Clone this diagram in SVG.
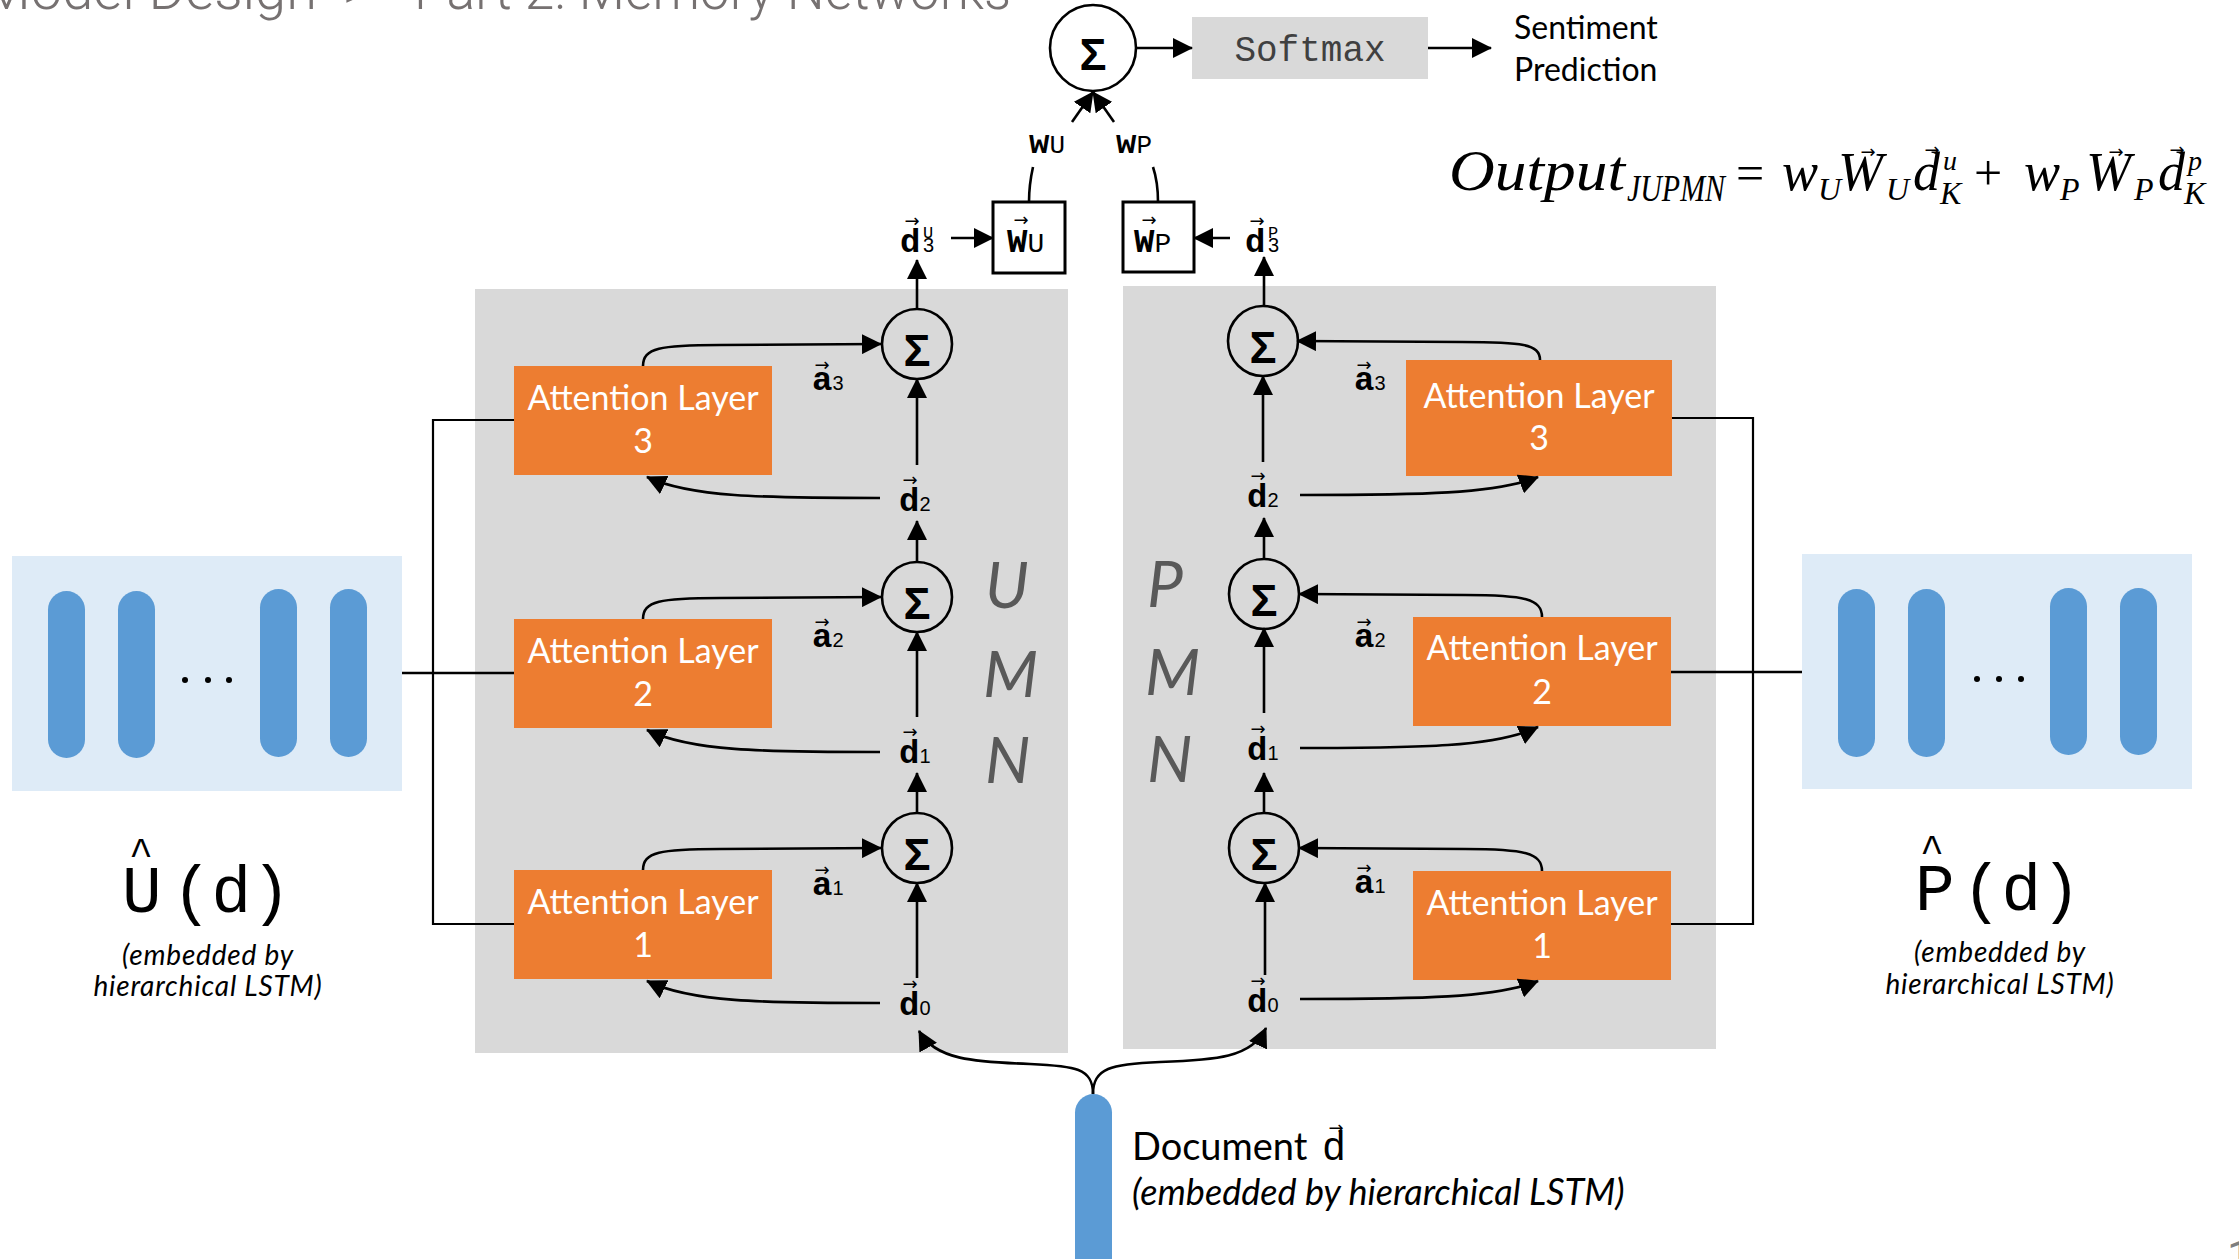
<svg xmlns="http://www.w3.org/2000/svg" width="2239" height="1259" viewBox="0 0 2239 1259">
<defs>
  <marker id="ah" markerUnits="userSpaceOnUse" markerWidth="20" markerHeight="20" viewBox="0 0 20 20" refX="19" refY="10" orient="auto">
    <path d="M0,0 L20,10 L0,20 z" fill="#000"/>
  </marker>
  <style>
    .panel{fill:#d9d9d9}
    .att{fill:#ed7d31}
    .att-t{font-family:Lato,"Liberation Sans",sans-serif;font-size:34px;fill:#fff;text-anchor:middle}
    .sum{fill:none;stroke:#000;stroke-width:2.6}
    .sig{font-family:"Liberation Sans",sans-serif;font-weight:bold;font-size:45px;text-anchor:middle}
    .ln{fill:none;stroke:#000;stroke-width:2.6}
    .arr{marker-end:url(#ah)}
    .frame{fill:none;stroke:#000;stroke-width:2.2}
    .vb{font-family:"Liberation Mono",monospace;font-weight:bold;font-size:34px}
    .vs{font-family:"Liberation Sans",sans-serif;font-weight:normal;font-size:20px}
    .acc{font-family:"DejaVu Sans",sans-serif;font-size:18px;text-anchor:middle}
    .mem{font-family:Lato,sans-serif;font-style:italic;font-size:64px;fill:#595959}
    .emb{fill:#deebf7}
    .pill{fill:#5b9bd5}
    .cap{font-family:Lato,sans-serif;font-style:italic;font-size:28px;letter-spacing:0.8px;text-anchor:middle}
    .mono{font-family:"Liberation Mono",monospace}
    .math{font-family:"Liberation Serif",serif;font-style:italic}
    .hdr{font-family:Roboto,sans-serif;font-weight:300;font-size:56px;fill:#767171}
  </style>
</defs>

<!-- slide header and page number -->
<g id="header">
  <text class="hdr" x="317" y="9" text-anchor="end">Model Design</text>
  <text class="hdr" x="343" y="9">&gt;</text>
  <text class="hdr" x="414" y="9" textLength="597" lengthAdjust="spacingAndGlyphs">Part 2: Memory Networks</text>
</g>
<text id="page-num" x="2227" y="1272" font-family="Roboto,sans-serif" font-size="44" fill="#7f7f7f">1</text>

<!-- memory network panels -->
<g id="umn-panel">
  <rect class="panel" x="475" y="289" width="593" height="764"/>
  <text class="mem" x="985" y="608">U</text>
  <text class="mem" x="983" y="697">M</text>
  <text class="mem" x="985" y="783">N</text>
</g>
<g id="pmn-panel">
  <rect class="panel" x="1123" y="286" width="593" height="763"/>
  <text class="mem" x="1147" y="607">P</text>
  <text class="mem" x="1145" y="695">M</text>
  <text class="mem" x="1147" y="782">N</text>
</g>

<!-- user / product embeddings -->
<g id="user-emb">
  <rect class="emb" x="12" y="556" width="390" height="235"/>
  <rect class="pill" x="48" y="591" width="37" height="167" rx="18.5"/>
  <rect class="pill" x="118" y="591" width="37" height="167" rx="18.5"/>
  <rect class="pill" x="260" y="589" width="37" height="168" rx="18.5"/>
  <rect class="pill" x="330" y="589" width="37" height="168" rx="18.5"/>
  <circle cx="185" cy="680" r="3"/><circle cx="208" cy="680" r="3"/><circle cx="229" cy="680" r="3"/>
  <text class="mono" x="141" y="866" font-size="40" text-anchor="middle">^</text>
  <text class="mono" y="912" font-size="66"><tspan x="122">U</tspan><tspan x="172">(d)</tspan></text>
  <text class="cap" x="208" y="965">(embedded by</text>
  <text class="cap" x="208" y="996">hierarchical LSTM)</text>
</g>
<g id="product-emb">
  <rect class="emb" x="1802" y="554" width="390" height="235"/>
  <rect class="pill" x="1838" y="589" width="37" height="168" rx="18.5"/>
  <rect class="pill" x="1908" y="589" width="37" height="168" rx="18.5"/>
  <rect class="pill" x="2050" y="588" width="37" height="167" rx="18.5"/>
  <rect class="pill" x="2120" y="588" width="37" height="167" rx="18.5"/>
  <circle cx="1977" cy="679" r="3"/><circle cx="1999" cy="679" r="3"/><circle cx="2021" cy="679" r="3"/>
  <text class="mono" x="1932" y="863" font-size="40" text-anchor="middle">^</text>
  <text class="mono" y="910" font-size="66"><tspan x="1915">P</tspan><tspan x="1962">(d)</tspan></text>
  <text class="cap" x="2000" y="962">(embedded by</text>
  <text class="cap" x="2000" y="994">hierarchical LSTM)</text>
</g>

<!-- attention layers -->
<g id="u-att3"><rect class="att" x="514" y="366" width="258" height="109"/><text class="att-t" x="643" y="410">Attention Layer</text><text class="att-t" x="643" y="453">3</text></g>
<g id="u-att2"><rect class="att" x="514" y="619" width="258" height="109"/><text class="att-t" x="643" y="663">Attention Layer</text><text class="att-t" x="643" y="706">2</text></g>
<g id="u-att1"><rect class="att" x="514" y="870" width="258" height="109"/><text class="att-t" x="643" y="914">Attention Layer</text><text class="att-t" x="643" y="957">1</text></g>
<g id="p-att3"><rect class="att" x="1406" y="360" width="266" height="116"/><text class="att-t" x="1539" y="408">Attention Layer</text><text class="att-t" x="1539" y="450">3</text></g>
<g id="p-att2"><rect class="att" x="1413" y="617" width="258" height="109"/><text class="att-t" x="1542" y="660">Attention Layer</text><text class="att-t" x="1542" y="704">2</text></g>
<g id="p-att1"><rect class="att" x="1413" y="871" width="258" height="109"/><text class="att-t" x="1542" y="915">Attention Layer</text><text class="att-t" x="1542" y="958">1</text></g>

<!-- summation nodes -->
<g id="u-sum3"><circle class="sum" cx="917" cy="344" r="35"/><text class="sig" x="917" y="366">Σ</text></g>
<g id="u-sum2"><circle class="sum" cx="917" cy="597" r="35"/><text class="sig" x="917" y="619">Σ</text></g>
<g id="u-sum1"><circle class="sum" cx="917" cy="848" r="35"/><text class="sig" x="917" y="870">Σ</text></g>
<g id="p-sum3"><circle class="sum" cx="1263" cy="341" r="35"/><text class="sig" x="1263" y="363">Σ</text></g>
<g id="p-sum2"><circle class="sum" cx="1264" cy="594" r="35"/><text class="sig" x="1264" y="616">Σ</text></g>
<g id="p-sum1"><circle class="sum" cx="1264" cy="848" r="35"/><text class="sig" x="1264" y="870">Σ</text></g>
<g id="out-sum"><circle class="sum" cx="1093" cy="48" r="43"/><text class="sig" x="1093" y="70">Σ</text></g>

<!-- output side -->
<g id="softmax">
  <rect x="1192" y="17" width="236" height="62" fill="#d9d9d9"/>
  <text class="mono" x="1310" y="61" font-size="36" fill="#404040" text-anchor="middle">Softmax</text>
</g>
<g id="prediction" font-family="Lato,sans-serif" font-size="32">
  <text x="1514" y="39">Sentiment</text>
  <text x="1514" y="81">Prediction</text>
</g>
<g id="wu-box">
  <rect x="993" y="202" width="72" height="71" fill="#fff" stroke="#000" stroke-width="3"/>
  <text class="acc" x="1021" y="226" font-size="36">→</text>
  <text class="vb" x="1007" y="252" font-size="40">W<tspan class="mono" font-weight="normal" font-size="28">U</tspan></text>
</g>
<g id="wp-box">
  <rect x="1123" y="202" width="71" height="70" fill="#fff" stroke="#000" stroke-width="3"/>
  <text class="acc" x="1149" y="226" font-size="36">→</text>
  <text class="vb" x="1134" y="252" font-size="40">W<tspan class="mono" font-weight="normal" font-size="28">P</tspan></text>
</g>
<g id="weights">
  <text class="vb" x="1029" y="153" font-size="37">w<tspan class="mono" font-weight="normal" font-size="26">U</tspan></text>
  <text class="vb" x="1116" y="153" font-size="37">w<tspan class="mono" font-weight="normal" font-size="26">P</tspan></text>
</g>

<!-- vector labels -->
<g id="vec-labels">
  <text class="acc" x="912" y="227">→</text><text class="vb" x="900" y="252">d</text><text class="mono" x="923" y="238" font-size="17">U</text><text class="vs" x="923" y="252">3</text>
  <text class="acc" x="1257" y="227">→</text><text class="vb" x="1245" y="252">d</text><text class="mono" x="1268" y="238" font-size="17">P</text><text class="vs" x="1268" y="252">3</text>

  <text class="acc" x="910" y="486">→</text><text class="vb" x="899" y="511">d<tspan class="vs">2</tspan></text>
  <text class="acc" x="910" y="738">→</text><text class="vb" x="899" y="763">d<tspan class="vs">1</tspan></text>
  <text class="acc" x="910" y="990">→</text><text class="vb" x="899" y="1015">d<tspan class="vs">0</tspan></text>
  <text class="acc" x="822" y="371">→</text><text class="vb" x="812" y="390">a<tspan class="vs">3</tspan></text>
  <text class="acc" x="822" y="628">→</text><text class="vb" x="812" y="647">a<tspan class="vs">2</tspan></text>
  <text class="acc" x="822" y="876">→</text><text class="vb" x="812" y="895">a<tspan class="vs">1</tspan></text>

  <text class="acc" x="1258" y="482">→</text><text class="vb" x="1247" y="507">d<tspan class="vs">2</tspan></text>
  <text class="acc" x="1258" y="735">→</text><text class="vb" x="1247" y="760">d<tspan class="vs">1</tspan></text>
  <text class="acc" x="1258" y="987">→</text><text class="vb" x="1247" y="1012">d<tspan class="vs">0</tspan></text>
  <text class="acc" x="1364" y="371">→</text><text class="vb" x="1354" y="390">a<tspan class="vs">3</tspan></text>
  <text class="acc" x="1364" y="628">→</text><text class="vb" x="1354" y="647">a<tspan class="vs">2</tspan></text>
  <text class="acc" x="1364" y="874">→</text><text class="vb" x="1354" y="893">a<tspan class="vs">1</tspan></text>
</g>

<!-- document input -->
<g id="document">
  <rect class="pill" x="1075" y="1094" width="37" height="200" rx="18.5"/>
  <text x="1132" y="1160" font-family="Lato,sans-serif" font-size="38">Document</text>
  <text class="mono" x="1322" y="1160" font-size="40">d</text>
  <text class="acc" x="1336" y="1134" font-size="34">→</text>
  <text x="1132" y="1205" font-family="Lato,sans-serif" font-style="italic" font-size="36">(embedded by hierarchical LSTM)</text>
</g>

<!-- joint output formula -->
<g id="formula" class="math">
  <text x="1449" y="190" font-size="56" textLength="176" lengthAdjust="spacingAndGlyphs">Output</text>
  <text x="1627" y="201" font-size="38" textLength="98" lengthAdjust="spacingAndGlyphs">JUPMN</text>
  <text x="1736" y="190" font-size="50" font-style="normal">=</text>
  <text x="1782" y="190" font-size="54">w</text>
  <text x="1818" y="200" font-size="32">U</text>
  <text x="1838" y="190" font-size="54">W</text>
  <text class="acc" x="1868" y="158" font-size="24" font-style="normal">→</text>
  <text x="1886" y="200" font-size="32">U</text>
  <text x="1913" y="190" font-size="54">d</text>
  <text class="acc" x="1932" y="156" font-size="20" font-style="normal">→</text>
  <text x="1943" y="170" font-size="28">u</text>
  <text x="1940" y="204" font-size="32">K</text>
  <text x="1974" y="190" font-size="50" font-style="normal">+</text>
  <text x="2024" y="190" font-size="54">w</text>
  <text x="2060" y="200" font-size="32">P</text>
  <text x="2086" y="190" font-size="54">W</text>
  <text class="acc" x="2116" y="158" font-size="24" font-style="normal">→</text>
  <text x="2134" y="200" font-size="32">P</text>
  <text x="2158" y="190" font-size="54">d</text>
  <text class="acc" x="2177" y="156" font-size="20" font-style="normal">→</text>
  <text x="2188" y="170" font-size="28">p</text>
  <text x="2184" y="204" font-size="32">K</text>
</g>

<!-- connectors -->
<g id="connectors">
  <!-- embedding fan-out to attention layers -->
  <path class="frame" d="M514,420 H433 V924 H514"/>
  <path class="ln" stroke-width="3" d="M402,673 H514"/>
  <path class="frame" d="M1672,418 H1753 V924 H1671"/>
  <path class="ln" stroke-width="3" d="M1671,672 H1802"/>

  <!-- user memory stack -->
  <path class="ln arr" d="M917,978 V883"/>
  <path class="ln arr" d="M917,813 V773"/>
  <path class="ln arr" d="M917,717 V632"/>
  <path class="ln arr" d="M917,563 V521"/>
  <path class="ln arr" d="M917,465 V379"/>
  <path class="ln arr" d="M917,309 V260"/>
  <path class="ln arr" d="M643,870 C643,852 660,849 720,849 L881,848"/>
  <path class="ln arr" d="M643,619 C643,601 660,598 720,598 L881,597"/>
  <path class="ln arr" d="M643,366 C643,348 660,345 720,345 L881,344"/>
  <path class="ln arr" d="M880,1003 C760,1003 690,1002 647,981"/>
  <path class="ln arr" d="M880,752 C760,752 690,751 647,730"/>
  <path class="ln arr" d="M880,498 C760,498 690,497 647,477"/>

  <!-- product memory stack -->
  <path class="ln arr" d="M1265,975 V883"/>
  <path class="ln arr" d="M1264,813 V773"/>
  <path class="ln arr" d="M1264,713 V628"/>
  <path class="ln arr" d="M1264,559 V518"/>
  <path class="ln arr" d="M1263,462 V376"/>
  <path class="ln arr" d="M1264,307 V257"/>
  <path class="ln arr" d="M1542,871 C1542,853 1525,849 1465,849 L1299,848"/>
  <path class="ln arr" d="M1542,617 C1542,599 1525,595 1465,595 L1299,594"/>
  <path class="ln arr" d="M1540,360 C1540,344 1522,342 1462,342 L1297,341"/>
  <path class="ln arr" d="M1300,999 C1420,999 1495,998 1538,981"/>
  <path class="ln arr" d="M1300,748 C1420,748 1495,747 1538,727"/>
  <path class="ln arr" d="M1300,495 C1420,495 1495,494 1538,477"/>

  <!-- document into both stacks -->
  <path class="ln arr" d="M1093,1094 C1093,1068 1075,1066 1030,1064 C975,1062 935,1060 919,1031"/>
  <path class="ln arr" d="M1093,1094 C1093,1068 1111,1064 1160,1062 C1215,1060 1252,1058 1266,1028"/>

  <!-- final memories to weights and output -->
  <path class="ln arr" d="M951,238 H993"/>
  <path class="ln arr" d="M1230,238 H1194"/>
  <path class="ln" stroke-width="2" d="M1029,202 C1029,186 1031,176 1033,167"/>
  <path class="ln" stroke-width="2" d="M1158,202 C1158,186 1156,176 1153,167"/>
  <path class="ln arr" stroke-width="2" d="M1072,122 L1093,92"/>
  <path class="ln arr" stroke-width="2" d="M1114,122 L1093,92"/>
  <path class="ln arr" d="M1136,48 H1192"/>
  <path class="ln arr" d="M1428,48 H1491"/>
</g>
</svg>
